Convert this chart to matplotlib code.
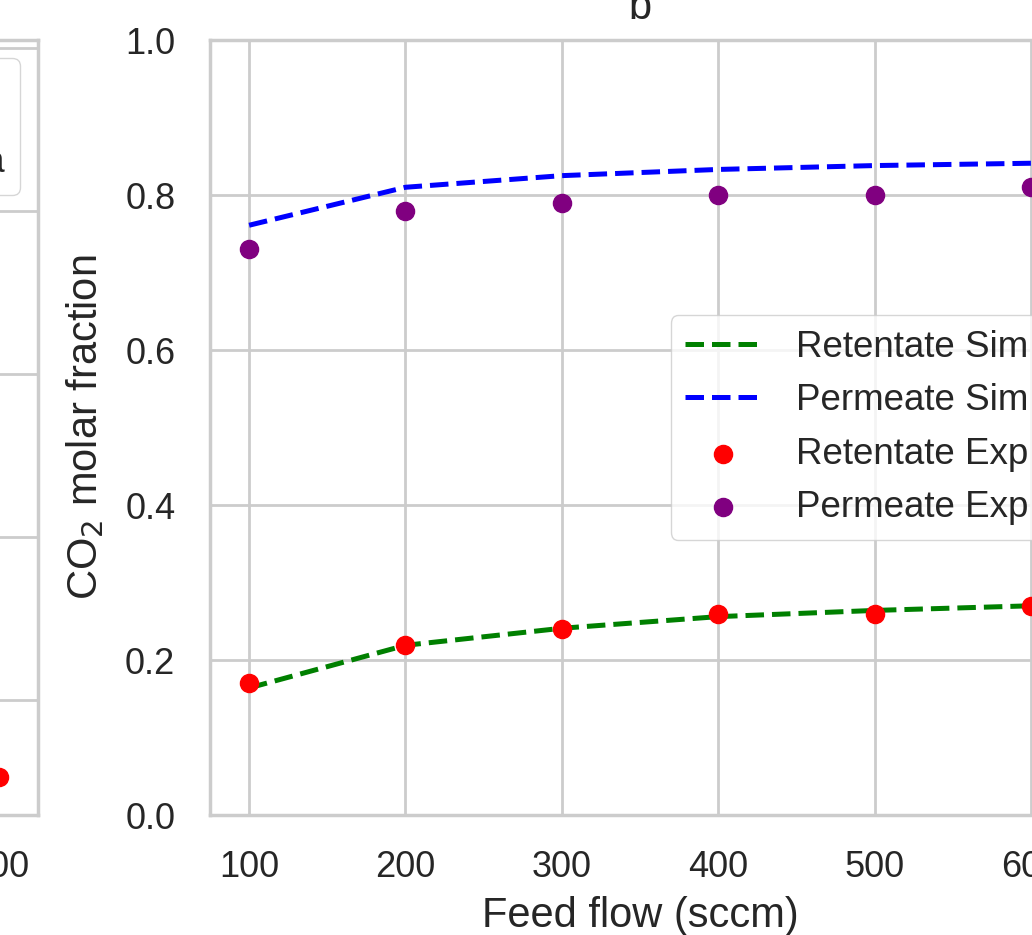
import numpy as np
import matplotlib
matplotlib.use('Agg')
import matplotlib.pyplot as plt
import seaborn as sns

# Dados
feed_flow = [100, 200, 300, 400, 500, 600]

# painel b
retentate_sim = [0.164, 0.219, 0.241, 0.256, 0.264, 0.270]
permeate_sim = [0.761, 0.810, 0.825, 0.833, 0.838, 0.841]
retentate_exp = [0.17, 0.22, 0.24, 0.26, 0.26, 0.27]
permeate_exp = [0.73, 0.78, 0.79, 0.80, 0.80, 0.81]

# painel a (só o último ponto aparece no recorte)
retentate_sim_a = [0.48, 0.30, 0.20, 0.13, 0.09, 0.06]
retentate_exp_a = [0.47, 0.31, 0.21, 0.14, 0.09, 0.053]

sns.set_theme(style="whitegrid")
plt.rcParams['font.family'] = ['Liberation Sans', 'DejaVu Sans']
plt.rcParams['axes.edgecolor'] = '.8'
plt.rcParams['axes.linewidth'] = 2.5
plt.rcParams['grid.linewidth'] = 2.0
plt.rcParams['grid.color'] = '.8'

tick_fs = 26
legend_fs = 26.5
label_fs = 30

fig = plt.figure(figsize=(10.32, 9.35), dpi=100)

# painel a (cortado à esquerda)
ax_a = fig.add_axes([-0.7965, 0.1283, 0.8333, 0.8289])
ax_a.plot(feed_flow, retentate_sim_a, '--', color='green', lw=3.6, label='Model')
ax_a.scatter(feed_flow, retentate_exp_a, color='red', s=170, zorder=3, label='Experimental data')
ax_a.set_xlim(75, 625)
ax_a.set_ylim(0.0295, 0.505)
ax_a.set_xticks(feed_flow)
ax_a.set_yticks([0.1, 0.2, 0.3, 0.4, 0.5])
ax_a.tick_params(labelsize=tick_fs, length=0, pad=25)
ax_a.set_title('a', fontsize=label_fs, pad=15)
ax_a.legend(loc='upper right', fontsize=legend_fs, frameon=True, labelspacing=1.0)

# painel b
ax = fig.add_axes([0.2035, 0.1283, 0.8333, 0.8289])
ax.plot(feed_flow, retentate_sim, '--', color='green', lw=3.6, label='Retentate Sim')
ax.plot(feed_flow, permeate_sim, '--', color='blue', lw=3.6, label='Permeate Sim')
ax.scatter(feed_flow, retentate_exp, color='red', s=170, zorder=3, label='Retentate Exp')
ax.scatter(feed_flow, permeate_exp, color='purple', s=170, zorder=3, label='Permeate Exp')
ax.set_xlim(75, 625)
ax.set_ylim(0, 1)
ax.set_xticks(feed_flow)
ax.set_yticks([0.0, 0.2, 0.4, 0.6, 0.8, 1.0])
ax.tick_params(labelsize=tick_fs, length=0, pad=25)
ax.set_xlabel('Feed flow (sccm)', fontsize=label_fs, labelpad=8)
ax.set_ylabel('CO$_2$ molar fraction', fontsize=label_fs, labelpad=13.5)
ax.set_title('b', fontsize=label_fs, pad=15)
ax.legend(loc='center right', fontsize=legend_fs, frameon=True,
          handletextpad=0.95, handlelength=2.07, borderaxespad=0.72)

fig.savefig('out.png', dpi=100)
